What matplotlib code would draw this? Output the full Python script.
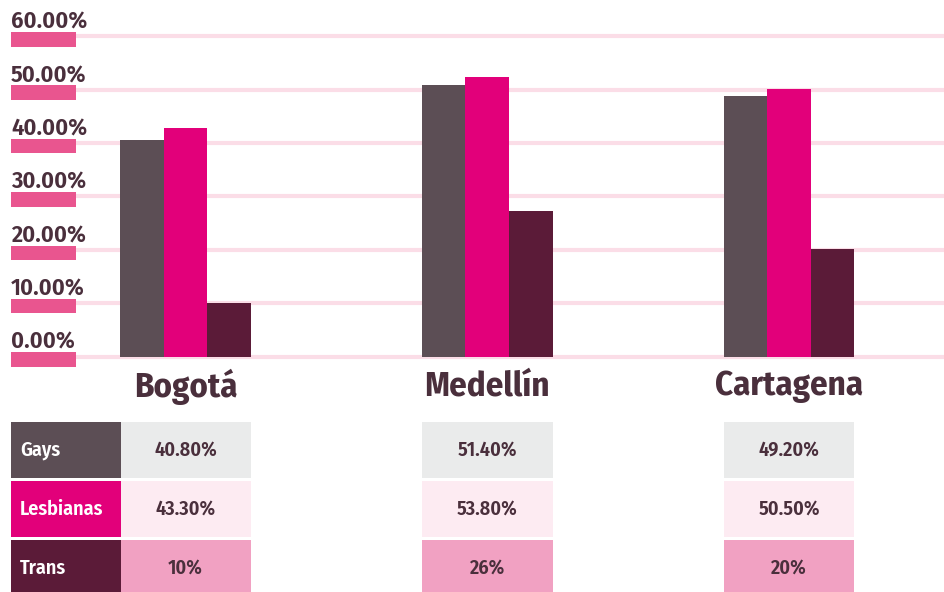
import matplotlib
matplotlib.use("Agg")
import matplotlib.pyplot as plt
from matplotlib.patches import Rectangle
import numpy as np

cities = ["Bogotá", "Medellín", "Cartagena"]
groups = ["Gays", "Lesbianas", "Trans"]
# bar heights as drawn in the picture
bar_values = {
    "Gays": [40.6, 50.9, 48.9],
    "Lesbianas": [42.9, 52.4, 50.1],
    "Trans": [10.0, 27.2, 20.1],
}
# values printed in the table
value_labels = {
    "Gays": ["40.80%", "51.40%", "49.20%"],
    "Lesbianas": ["43.30%", "53.80%", "50.50%"],
    "Trans": ["10%", "26%", "20%"],
}
yticks = [0, 10, 20, 30, 40, 50, 60]
ytick_labels = ["0.00%", "10.00%", "20.00%", "30.00%", "40.00%", "50.00%", "60.00%"]

bar_colors = {"Gays": "#5c4e55", "Lesbianas": "#e2007a", "Trans": "#5b1b38"}
cell_colors = {"Gays": "#eaebeb", "Lesbianas": "#fdebf2", "Trans": "#f1a1c2"}
text_color = "#4a2f3c"
tick_pink = "#e9558f"
grid_pink = "#fbdde7"

plt.rcParams["font.family"] = ["Fira Sans Condensed", "DejaVu Sans"]

W, H = 945, 592
fig = plt.figure(figsize=(W / 100, H / 100), dpi=100)
fig.patch.set_facecolor("white")

px_per_unit_x = 301.75
x0_px = 185.5
zero_px = 356.5
px_per_unit_y = 5.335
bar_ax_bottom_px = 410

ax = fig.add_axes([0, 1 - bar_ax_bottom_px / H, 1, bar_ax_bottom_px / H])
ax.set_xlim(-x0_px / px_per_unit_x, (W - x0_px) / px_per_unit_x)
ax.set_ylim(-(bar_ax_bottom_px - zero_px) / px_per_unit_y, zero_px / px_per_unit_y)
ax.axis("off")

bw = 43.6 / px_per_unit_x
x = np.arange(len(cities))

grid_start = 76 / W
tick_x0 = 11 / W
ytr = ax.get_yaxis_transform()
for t, lab in zip(yticks, ytick_labels):
    ax.axhline(t, xmin=grid_start, xmax=1, color=grid_pink, lw=3, zorder=1)
    ax.add_patch(Rectangle((tick_x0, t - 1.9), grid_start - tick_x0, 2.7,
                           transform=ytr, color=tick_pink, lw=0, zorder=2))
    ax.text(tick_x0, t + 0.5, lab, transform=ytr, ha="left", va="bottom",
            fontsize=17.5, fontweight="semibold", color=text_color)

for i, g in enumerate(groups):
    ax.bar(x + (i - 1) * bw, bar_values[g], width=bw, color=bar_colors[g], zorder=3)

for xi, c in zip(x, cities):
    ax.text(xi, -5.6, c, ha="center", va="center", fontsize=25,
            fontweight="bold", color=text_color)

row_px = 59
cell_px = 56
tab_top = 422
tax = fig.add_axes([0, 0, 1, (H - tab_top) / H])
tax.set_xlim(ax.get_xlim())
tax.set_ylim((H - tab_top) / row_px, 0)
tax.axis("off")
ttr = tax.get_yaxis_transform()
ch = cell_px / row_px
for r, g in enumerate(groups):
    for xi in x:
        tax.add_patch(Rectangle((xi - 1.5 * bw, r), 3 * bw, ch,
                                color=cell_colors[g], lw=0))
        tax.text(xi, r + ch / 2, value_labels[g][xi], ha="center", va="center",
                 fontsize=14.5, fontweight="semibold", color=text_color)
    tax.add_patch(Rectangle((11 / W, r), 110 / W, ch, transform=ttr,
                            color=bar_colors[g], lw=0, zorder=3))
    tax.text(20 / W, r + ch / 2, g, transform=ttr, ha="left", va="center",
             fontsize=14.5, fontweight="semibold", color="white", zorder=4)

fig.savefig("out.png", dpi=100, facecolor="white")
